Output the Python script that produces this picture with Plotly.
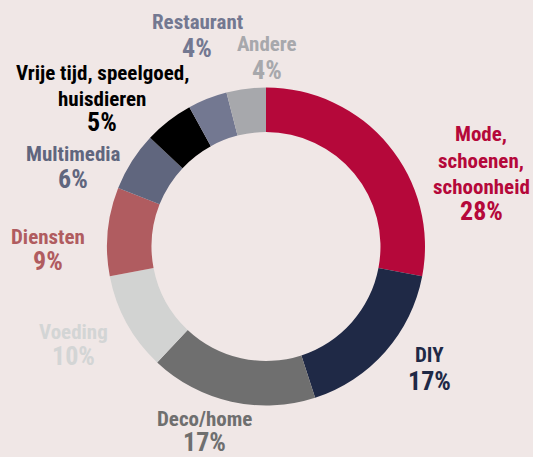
import plotly.graph_objects as go

W, H = 533, 457

categories = ["Mode, schoenen, schoonheid", "DIY", "Deco/home", "Voeding", "Diensten",
              "Multimedia", "Vrije tijd, speelgoed, huisdieren", "Restaurant", "Andere"]
shares = [28, 17, 17, 10, 9, 6, 5, 4, 4]
colors = ["#b5083a", "#1f2946", "#6f6f6f", "#d2d3d2", "#b05c60",
          "#60667e", "#000000", "#737891", "#a7a8ac"]
label_colors = ["#b5083a", "#1f2946", "#6f6f6f", "#d3d5d5", "#b05c60",
                "#60667e", "#000000", "#737891", "#a7a8ac"]
# label lines as drawn next to each slice
label_lines = [["Mode,", "schoenen,", "schoonheid"], ["DIY"], ["Deco/home"], ["Voeding"],
               ["Diensten"], ["Multimedia"], ["Vrije tijd, speelgoed,", "huisdieren"],
               ["Restaurant"], ["Andere"]]
# pixel layout of each label block: x centre, y of first name line, y of percentage
label_x = [481, 429, 204, 73, 48, 73, 102, 197, 267]
name_y = [134, 355, 419, 332, 237, 154, 72.5, 22, 44.5]
pct_y = [211, 381, 442, 356, 261, 179, 122.5, 48, 70]
LINE_GAP = 26.5

FONT = "Roboto Condensed, Liberation Sans Narrow, Arial Narrow, sans-serif"
BG = "#f0e7e6"

cx, cy, r = 266, 246.5, 159

fig = go.Figure(go.Pie(
    labels=categories,
    values=shares,
    marker=dict(colors=colors, line=dict(width=0)),
    hole=0.72,
    sort=False,
    direction="clockwise",
    rotation=0,
    textinfo="none",
    hoverinfo="label+percent",
    showlegend=False,
    domain=dict(x=[(cx - r) / W, (cx + r) / W],
                y=[(H - cy - r) / H, (H - cy + r) / H]),
))

annotations = []
for lines, px, ny, py, col, val in zip(label_lines, label_x, name_y, pct_y,
                                       label_colors, shares):
    for i, line in enumerate(lines):
        annotations.append(dict(x=px / W, y=1 - (ny + i * LINE_GAP) / H,
                                xref="paper", yref="paper",
                                text=f"<b>{line}</b>", showarrow=False,
                                xanchor="center", yanchor="middle",
                                font=dict(family=FONT, size=21, color=col)))
    annotations.append(dict(x=px / W, y=1 - py / H, xref="paper", yref="paper",
                            text=f"<b>{val}%</b>", showarrow=False,
                            xanchor="center", yanchor="middle",
                            font=dict(family=FONT, size=26, color=col)))

fig.update_layout(
    width=W, height=H,
    margin=dict(l=0, r=0, t=0, b=0),
    paper_bgcolor=BG, plot_bgcolor=BG,
    annotations=annotations,
)

fig.write_html("out.html")
